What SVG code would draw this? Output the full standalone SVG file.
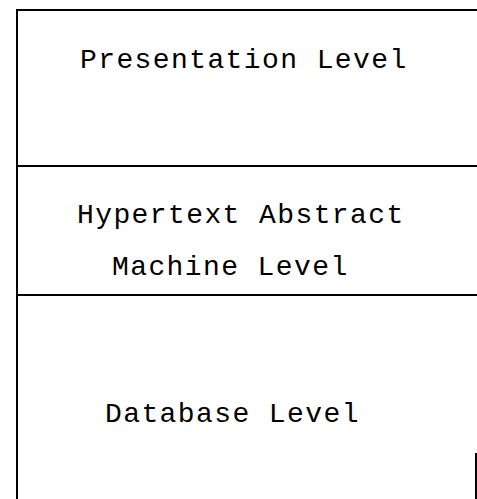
<svg xmlns="http://www.w3.org/2000/svg" width="477" height="499" viewBox="0 0 477 499">
<style>
.ln{stroke:#000;stroke-width:2;fill:none}
.t{font-family:"Liberation Mono","Courier New",monospace;font-size:28px;fill:#000;letter-spacing:1.4px}
</style>
<rect width="477" height="499" fill="#fff"/>
<g id="presentation">
<text class="t" x="80" y="68">Presentation Level</text>
</g>
<g id="ham">
<text class="t" x="77" y="223">Hypertext Abstract</text>
<text class="t" x="112" y="275">Machine Level</text>
</g>
<g id="database">
<text class="t" x="105" y="422">Database Level</text>
</g>
<g id="connectors">
<path class="ln" d="M17 499V10H477"/>
<path class="ln" d="M17 166H477"/>
<path class="ln" d="M17 295H477"/>
<path class="ln" d="M476 453V499"/>
</g>
</svg>
